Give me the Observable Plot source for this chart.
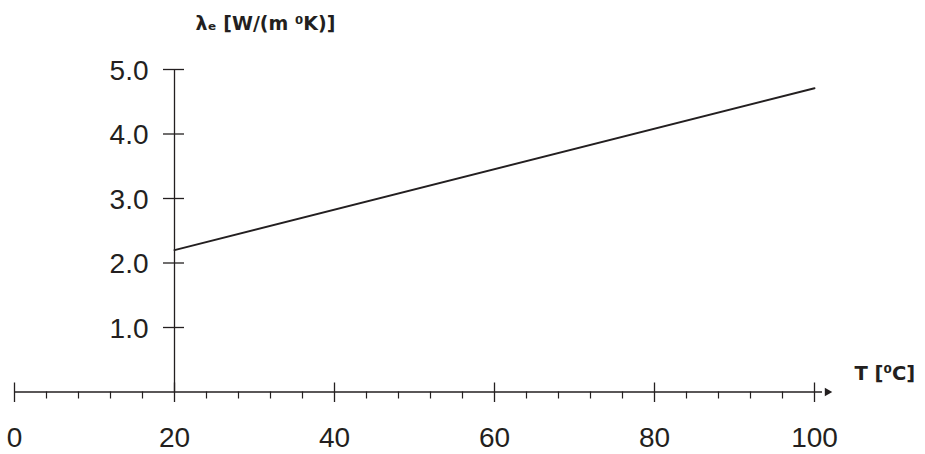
<!DOCTYPE html>
<html>
<head>
<meta charset="utf-8">
<script src="https://cdn.jsdelivr.net/npm/d3@7"></script>
<script src="https://cdn.jsdelivr.net/npm/@observablehq/plot@0.6"></script>
<style>
  html, body { margin: 0; padding: 0; background: #ffffff; }
  #chart svg { display: block; overflow: visible; }
</style>
</head>
<body>
<div id="chart"></div>
<script>
// Data
const temperature = [20, 100];          // T [°C]
const lambdaE = [2.2, 4.71];            // λe [W/(m °K)]

// Axis ticks
const tMajorTicks = [0, 20, 40, 60, 80, 100];
const tMinorTicks = [4, 8, 12, 16, 24, 28, 32, 36, 44, 48, 52, 56, 64, 68, 72, 76, 84, 88, 92, 96];
const tTickLabels = ["0", "20", "40", "60", "80", "100"];
const lambdaTicks = [1, 2, 3, 4, 5];
const lambdaTickLabels = ["1.0", "2.0", "3.0", "4.0", "5.0"];
const yAxisAt = [20];
const xAxisEnd = [101.6];
const xTitle = "T [\u2070C]";
const yTitle = "\u03BB\u2091 [W/(m \u2070K)]";

const series = temperature.map((t, i) => ({t, v: lambdaE[i]}));
const ink = "#231f20";

const chart = Plot.plot({
  width: 925,
  height: 454,
  marginLeft: 14,
  marginRight: 111,
  marginTop: 69,
  marginBottom: 62.5,
  x: {domain: [0, 100], axis: null},
  y: {domain: [0, 5], axis: null},
  style: {background: "#ffffff", overflow: "visible"},
  marks: [
    // x axis line
    Plot.ruleY([0], {x1: 0, x2: xAxisEnd[0] - 0.6, stroke: ink, strokeWidth: 1.3}),
    Plot.dot(xAxisEnd, {x: d => d, y: 0, symbol: "triangle", rotate: 90, r: 3.2, fill: ink, stroke: "none"}),
    // y axis line
    Plot.ruleX(yAxisAt, {x: d => d, y1: 0, y2: 5, stroke: ink, strokeWidth: 1.3}),
    // major x ticks (crossing)
    Plot.ruleX(tMajorTicks, {x: d => d, y1: 0, y2: 0, insetTop: -9, insetBottom: -10.5, stroke: ink, strokeWidth: 1.3}),
    // minor x ticks (below)
    Plot.ruleX(tMinorTicks, {x: d => d, y1: 0, y2: 0, insetTop: 0, insetBottom: -7, stroke: ink, strokeWidth: 1.2}),
    // y ticks (crossing)
    Plot.ruleY(lambdaTicks, {y: d => d, x1: yAxisAt[0], x2: yAxisAt[0], insetLeft: -11, insetRight: -10, stroke: ink, strokeWidth: 1.3}),
    // tick labels
    Plot.text(tMajorTicks, {x: d => d, y: 0, text: (d, i) => tTickLabels[i], dy: 46, textAnchor: "middle", lineAnchor: "middle",
      fontSize: 28, fontFamily: "Liberation Sans, Arial, sans-serif", fill: ink}),
    Plot.text(lambdaTicks, {x: yAxisAt[0], y: d => d, text: (d, i) => lambdaTickLabels[i], dx: -26, dy: 1.5, textAnchor: "end", lineAnchor: "middle",
      fontSize: 28, fontFamily: "Liberation Sans, Arial, sans-serif", fill: ink}),
    // axis titles
    Plot.text([yTitle], {x: yAxisAt[0], y: 5, text: d => d, dx: 21, dy: -46, textAnchor: "start", lineAnchor: "middle",
      fontSize: 19, fontWeight: "bold", fontFamily: "DejaVu Sans, sans-serif", fill: ink}),
    Plot.text([xTitle], {x: 100, y: 0, text: d => d, dx: 40, dy: -18, textAnchor: "start", lineAnchor: "middle",
      fontSize: 19.5, fontWeight: "bold", fontFamily: "DejaVu Sans, sans-serif", fill: ink}),
    // data line
    Plot.line(series, {x: "t", y: "v", stroke: ink, strokeWidth: 2})
  ]
});
document.getElementById("chart").appendChild(chart);
</script>
</body>
</html>
